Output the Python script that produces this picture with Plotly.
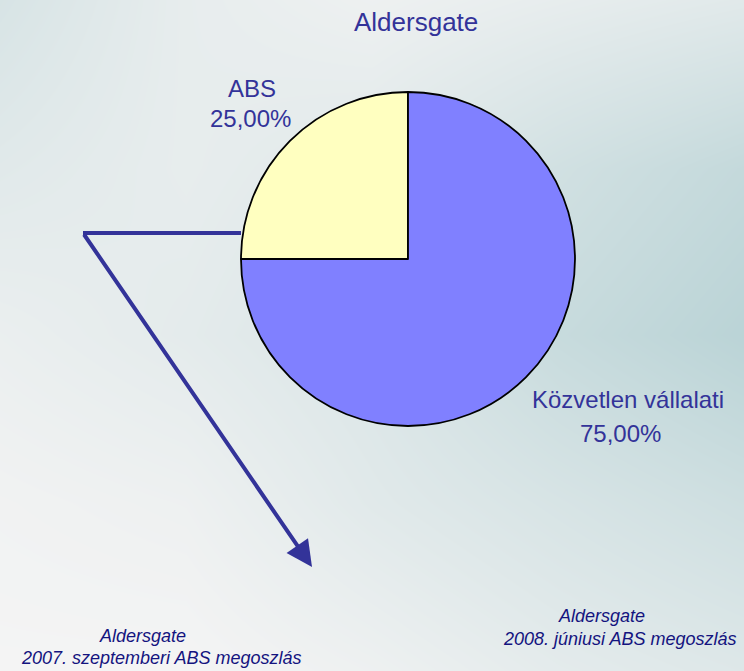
import plotly.graph_objects as go

# Adatok
labels = ["ABS", "Közvetlen vállalati"]
values = [25, 75]
slice_colors = ["#FFFFC0", "#8080FF"]
title = "Aldersgate"
caption_left = ["Aldersgate", "2007. szeptemberi ABS megoszlás"]
caption_right = ["Aldersgate", "2008. júniusi ABS megoszlás"]

W, H = 744, 671
text_color = "#333399"
caption_color = "#14147F"
font = "Liberation Sans, Arial, sans-serif"


def pct(v):
    return f"{v / sum(values) * 100:.2f}".replace(".", ",") + "%"


fig = go.Figure()

# hattér: lágy színátmenet (heatmap a teljes lapon)
bg_x = [0, 186, 372, 558, 744]
bg_y = [0, 168, 335, 503, 671]
bg_z = [
    [0.45, 0.20, 0.10, 0.20, 0.30],
    [0.30, 0.20, 0.30, 0.55, 0.75],
    [0.15, 0.25, 0.40, 0.70, 0.90],
    [0.05, 0.10, 0.30, 0.45, 0.60],
    [0.00, 0.00, 0.10, 0.25, 0.35],
]
fig.add_trace(go.Heatmap(
    x=bg_x, y=bg_y, z=bg_z, zsmooth="best", zmin=0, zmax=1,
    colorscale=[[0, "#F4F4F4"], [1, "#B4D0D3"]],
    showscale=False, hoverinfo="skip"
))

# kördiagram (ABS a bal felső negyedben)
cx, cy, r = 408, 259, 167
fig.add_trace(go.Pie(
    labels=labels, values=values, sort=False, direction="counterclockwise",
    rotation=-90, textinfo="none", showlegend=False,
    marker=dict(colors=slice_colors, line=dict(color="black", width=1.8)),
    domain=dict(x=[(cx - r) / W, (cx + r) / W], y=[1 - (cy + r) / H, 1 - (cy - r) / H])
))

fig.update_xaxes(range=[0, W], visible=False, fixedrange=True)
fig.update_yaxes(range=[H, 0], visible=False, fixedrange=True)


def label(x, y, txt, size=24, color=text_color, italic=False):
    fig.add_annotation(
        x=x, y=y, xref="x", yref="y", text=txt, showarrow=False,
        xanchor="center", yanchor="middle",
        font=dict(family=font, size=size, color=color, style="italic" if italic else "normal")
    )


# címke szövegek
label(416, 22, title, size=26)
label(252, 88, labels[0])
label(250, 118, pct(values[0]))
label(628, 399, labels[1])
label(620, 433, pct(values[1]))

label(142, 636, caption_left[0], size=18, color=caption_color, italic=True)
label(161, 658, caption_left[1], size=18, color=caption_color, italic=True)
label(601, 616, caption_right[0], size=18, color=caption_color, italic=True)
label(619, 639, caption_right[1], size=18, color=caption_color, italic=True)

# nyíl
arrow_color = "#333399"
fig.add_shape(type="line", xref="x", yref="y", x0=83, y0=233, x1=241, y1=233,
              line=dict(color=arrow_color, width=4))
fig.add_annotation(
    x=312, y=567, xref="x", yref="y", ax=83, ay=233, axref="x", ayref="y",
    text="", showarrow=True, arrowhead=2, arrowsize=1.3, arrowwidth=4,
    arrowcolor=arrow_color, standoff=0
)

fig.update_layout(
    width=W, height=H, margin=dict(l=0, r=0, t=0, b=0),
    paper_bgcolor="#EAEEEF", plot_bgcolor="#EAEEEF",
    font=dict(family=font)
)

fig.write_html(
    "out.html",
    config={"displayModeBar": False},
    post_script="document.body.style.margin='0';document.body.style.overflow='hidden';"
)
